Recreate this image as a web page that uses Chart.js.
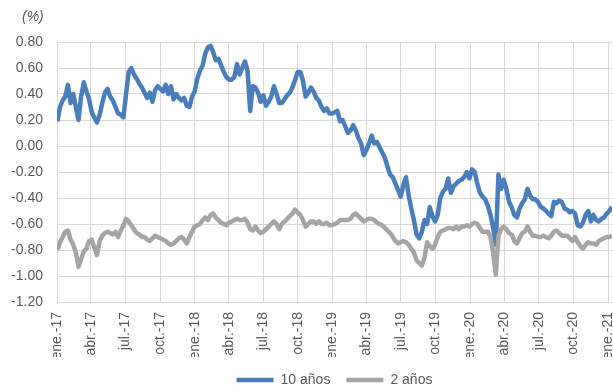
<!DOCTYPE html>
<html>
<head>
<meta charset="utf-8">
<script src="https://cdn.jsdelivr.net/npm/chart.js@4.4.0/dist/chart.umd.min.js"></script>
<style>
  html, body { margin: 0; padding: 0; background: #ffffff; }
  #wrap { width: 613px; height: 391px; position: relative; }
</style>
</head>
<body>
<div id="wrap"><canvas id="chart"></canvas></div>
<script>
// Weekly yields, first observation on the Monday below
const firstWeek = '2017-01-02';

const tickDates = ['2017-01-01', '2017-04-01', '2017-07-01', '2017-10-01',
                   '2018-01-01', '2018-04-01', '2018-07-01', '2018-10-01',
                   '2019-01-01', '2019-04-01', '2019-07-01', '2019-10-01',
                   '2020-01-01', '2020-04-01', '2020-07-01', '2020-10-01',
                   '2021-01-01'];
const tickLabels = ['ene.-17', 'abr.-17', 'jul.-17', 'oct.-17',
                    'ene.-18', 'abr.-18', 'jul.-18', 'oct.-18',
                    'ene.-19', 'abr.-19', 'jul.-19', 'oct.-19',
                    'ene.-20', 'abr.-20', 'jul.-20', 'oct.-20',
                    'ene.-21'];

const seriesNames = ['10 años', '2 años'];

// 10-year yield (%)
const tenYear = [
  0.19, 0.30, 0.35, 0.38, 0.47, 0.33, 0.40, 0.30, 0.20, 0.38,
  0.49, 0.42, 0.36, 0.26, 0.22, 0.18, 0.24, 0.33, 0.41, 0.44,
  0.38, 0.35, 0.30, 0.25, 0.24, 0.22, 0.40, 0.57, 0.60, 0.55,
  0.52, 0.48, 0.45, 0.41, 0.37, 0.41, 0.34, 0.43, 0.46, 0.44,
  0.42, 0.47, 0.40, 0.46, 0.36, 0.40, 0.37, 0.35, 0.37, 0.31,
  0.30, 0.38, 0.42, 0.52, 0.58, 0.62, 0.71, 0.76, 0.77, 0.72,
  0.66, 0.67, 0.62, 0.57, 0.53, 0.51, 0.51, 0.53, 0.63, 0.55,
  0.60, 0.65, 0.58, 0.27, 0.46, 0.45, 0.41, 0.34, 0.39, 0.31,
  0.34, 0.38, 0.46, 0.40, 0.33, 0.33, 0.36, 0.39, 0.41, 0.45,
  0.51, 0.57, 0.57, 0.50, 0.38, 0.41, 0.45, 0.42, 0.37, 0.35,
  0.30, 0.27, 0.29, 0.25, 0.25, 0.26, 0.27, 0.19, 0.20, 0.15,
  0.10, 0.12, 0.16, 0.12, 0.06, 0.02, -0.07, -0.03, 0.02, 0.08,
  0.02, 0.03, -0.01, -0.05, -0.09, -0.16, -0.22, -0.24, -0.29, -0.34,
  -0.39, -0.30, -0.24, -0.38, -0.48, -0.57, -0.68, -0.71, -0.66, -0.57,
  -0.60, -0.47, -0.54, -0.58, -0.53, -0.40, -0.35, -0.33, -0.25, -0.36,
  -0.31, -0.29, -0.27, -0.26, -0.24, -0.20, -0.25, -0.18, -0.20, -0.29,
  -0.36, -0.39, -0.41, -0.46, -0.53, -0.63, -0.76, -0.22, -0.33, -0.26,
  -0.33, -0.43, -0.47, -0.53, -0.55, -0.48, -0.44, -0.41, -0.33, -0.38,
  -0.41, -0.41, -0.43, -0.47, -0.48, -0.50, -0.52, -0.54, -0.43, -0.44,
  -0.42, -0.43, -0.48, -0.49, -0.51, -0.50, -0.52, -0.61, -0.62, -0.59,
  -0.53, -0.50, -0.58, -0.53, -0.57, -0.58, -0.56, -0.55, -0.52, -0.50,
  -0.47
];

// 2-year yield (%)
const twoYear = [
  -0.80, -0.74, -0.70, -0.66, -0.65, -0.72, -0.76, -0.82, -0.93, -0.87,
  -0.81, -0.79, -0.73, -0.72, -0.78, -0.84, -0.73, -0.69, -0.67, -0.66,
  -0.67, -0.68, -0.66, -0.70, -0.65, -0.61, -0.56, -0.58, -0.61, -0.64,
  -0.67, -0.68, -0.70, -0.70, -0.72, -0.73, -0.71, -0.69, -0.70, -0.71,
  -0.72, -0.73, -0.75, -0.76, -0.75, -0.73, -0.71, -0.70, -0.72, -0.75,
  -0.70, -0.66, -0.62, -0.61, -0.60, -0.57, -0.55, -0.57, -0.53, -0.52,
  -0.55, -0.57, -0.59, -0.60, -0.61, -0.59, -0.58, -0.57, -0.56, -0.57,
  -0.57, -0.56, -0.59, -0.64, -0.65, -0.62, -0.65, -0.67, -0.66, -0.64,
  -0.62, -0.60, -0.58, -0.60, -0.64, -0.60, -0.58, -0.56, -0.54, -0.52,
  -0.49, -0.51, -0.53, -0.57, -0.62, -0.60, -0.58, -0.58, -0.60, -0.58,
  -0.60, -0.60, -0.59, -0.61, -0.61, -0.60, -0.59, -0.57, -0.57, -0.57,
  -0.57, -0.56, -0.53, -0.52, -0.54, -0.56, -0.58, -0.57, -0.56, -0.56,
  -0.57, -0.59, -0.60, -0.61, -0.63, -0.65, -0.67, -0.70, -0.73, -0.75,
  -0.74, -0.73, -0.74, -0.76, -0.79, -0.82, -0.88, -0.90, -0.92, -0.86,
  -0.74, -0.77, -0.79, -0.76, -0.70, -0.66, -0.65, -0.64, -0.63, -0.63,
  -0.64, -0.62, -0.64, -0.62, -0.62, -0.61, -0.62, -0.60, -0.59, -0.60,
  -0.63, -0.66, -0.66, -0.66, -0.70, -0.82, -0.99, -0.69, -0.64, -0.62,
  -0.64, -0.67, -0.68, -0.73, -0.75, -0.71, -0.67, -0.66, -0.62, -0.66,
  -0.69, -0.69, -0.70, -0.70, -0.69, -0.70, -0.71, -0.69, -0.66, -0.65,
  -0.67, -0.69, -0.69, -0.69, -0.71, -0.73, -0.70, -0.74, -0.77, -0.79,
  -0.76, -0.74, -0.75, -0.75, -0.76, -0.73, -0.72, -0.71, -0.70, -0.70,
  -0.69
];

const TEXT = '#595959';
const GRID = '#d9d9d9';
const FONT = "'Liberation Sans', Arial, sans-serif";

// Day number counted from 1 Jan 2017
const ORIGIN = Date.UTC(2017, 0, 1);
function dayOf(iso) {
  const [y, m, d] = iso.split('-').map(Number);
  return Math.round((Date.UTC(y, m - 1, d) - ORIGIN) / 86400000);
}
const startDay = dayOf(firstWeek);
const weekDay = i => startDay + 7 * i;
const asPoints = arr => arr.map((v, i) => ({ x: weekDay(i), y: v }));
const lastDay = weekDay(tenYear.length - 1);

// Unit label above the value axis
const unitLabel = {
  id: 'unitLabel',
  afterDraw(chart) {
    const ctx = chart.ctx;
    ctx.save();
    ctx.font = "italic 14px " + FONT;
    ctx.fillStyle = TEXT;
    ctx.textBaseline = 'middle';
    ctx.textAlign = 'left';
    ctx.fillText('(%)', 22, 17);
    ctx.restore();
  }
};

new Chart(document.getElementById('chart'), {
  type: 'line',
  data: {
    datasets: [
      {
        label: seriesNames[0],
        data: asPoints(tenYear),
        borderColor: '#4a7ebb',
        backgroundColor: '#4a7ebb',
        borderWidth: 4.5,
        pointRadius: 0,
        borderJoinStyle: 'round',
        tension: 0,
        order: 1
      },
      {
        label: seriesNames[1],
        data: asPoints(twoYear),
        borderColor: '#a5a5a5',
        backgroundColor: '#a5a5a5',
        borderWidth: 4.5,
        pointRadius: 0,
        borderJoinStyle: 'round',
        tension: 0,
        order: 0
      }
    ]
  },
  options: {
    responsive: true,
    maintainAspectRatio: false,
    animation: false,
    devicePixelRatio: 1,
    layout: { padding: { top: 42, right: 1, left: 0, bottom: 0 } },
    scales: {
      x: {
        type: 'linear',
        min: 0,
        max: lastDay,
        afterBuildTicks(scale) {
          scale.ticks = tickDates.map(d => ({ value: dayOf(d) }));
        },
        afterFit(scale) {
          scale.height = 55;
          // rotated labels stay inside the plot width
          scale.paddingLeft = 0;
          scale.paddingRight = 0;
        },
        ticks: {
          autoSkip: false,
          minRotation: 90,
          maxRotation: 90,
          padding: 10,
          color: TEXT,
          font: { family: FONT, size: 14 },
          callback: (value, index) => tickLabels[index]
        },
        grid: { color: GRID, lineWidth: 1, drawTicks: false },
        border: { display: false }
      },
      y: {
        min: -1.2,
        max: 0.8,
        afterFit(scale) { scale.width = 57; },
        ticks: {
          stepSize: 0.2,
          padding: 14,
          color: TEXT,
          font: { family: FONT, size: 14 },
          callback: v => (Math.abs(v) < 1e-9 ? 0 : v).toFixed(2)
        },
        grid: { color: GRID, lineWidth: 1, drawTicks: false },
        border: { display: false }
      }
    },
    plugins: {
      legend: {
        position: 'bottom',
        fullSize: false,
        maxHeight: 34,
        labels: {
          usePointStyle: true,
          pointStyle: 'line',
          pointStyleWidth: 37,
          padding: 16,
          color: TEXT,
          font: { family: FONT, size: 14 },
          sort: (a, b) => a.datasetIndex - b.datasetIndex
        }
      },
      tooltip: { enabled: false }
    }
  },
  plugins: [unitLabel]
});
</script>
</body>
</html>
